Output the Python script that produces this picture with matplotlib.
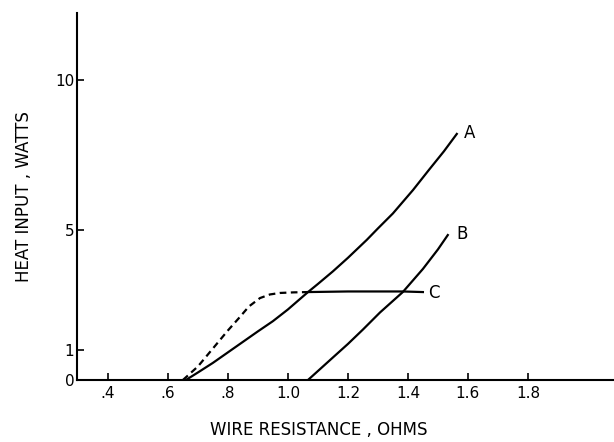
import numpy as np
import matplotlib
matplotlib.use("Agg")
import matplotlib.pyplot as plt

# curve A
a_r = [0.66, 0.70, 0.75, 0.80, 0.85, 0.90, 0.95, 1.00, 1.067, 1.10, 1.15, 1.20, 1.263, 1.30, 1.35, 1.417, 1.47, 1.52, 1.563]
a_w = [0.0, 0.25, 0.57, 0.92, 1.27, 1.62, 1.96, 2.35, 2.93, 3.2, 3.62, 4.07, 4.67, 5.05, 5.55, 6.33, 7.0, 7.62, 8.2]

# curve B
b_r = [1.067, 1.15, 1.20, 1.25, 1.307, 1.383, 1.45, 1.50, 1.533]
b_w = [0.0, 0.75, 1.2, 1.68, 2.25, 2.93, 3.7, 4.35, 4.83]

# curve C, dashed part then solid part
c_dash_r = [0.65, 0.70, 0.75, 0.80, 0.84, 0.87, 0.907, 0.94, 0.973, 1.02, 1.067]
c_dash_w = [0.0, 0.45, 1.05, 1.65, 2.1, 2.45, 2.73, 2.85, 2.9, 2.92, 2.93]
c_r = [1.067, 1.2, 1.383, 1.45]
c_w = [2.93, 2.95, 2.95, 2.93]

xticks = [0.4, 0.6, 0.8, 1.0, 1.2, 1.4, 1.6, 1.8]
xticklabels = [".4", ".6", ".8", "1.0", "1.2", "1.4", "1.6", "1.8"]
yticks = [0, 1, 5, 10]

fig = plt.figure(figsize=(6.14, 4.42), dpi=100)
ax = fig.add_axes([0.1254, 0.1403, 0.8746, 0.8303])

ax.plot(a_r, a_w, color="black", lw=1.6)
ax.plot(b_r, b_w, color="black", lw=1.6)
ax.plot(c_dash_r, c_dash_w, color="black", lw=1.6, dashes=(3, 2))
ax.plot(c_r, c_w, color="black", lw=1.6)

ax.text(1.607, 8.23, "A", fontsize=12, ha="center", va="center")
ax.text(1.58, 4.87, "B", fontsize=12, ha="center", va="center")
ax.text(1.487, 2.9, "C", fontsize=12, ha="center", va="center")

ax.set_xlim(0.297, 2.087)
ax.set_ylim(0, 12.23)
ax.set_xticks(xticks)
ax.set_xticklabels(xticklabels)
ax.set_yticks(yticks)
ax.tick_params(direction="in", length=5, width=1.2, labelsize=11, pad=4)
ax.tick_params(axis="y", pad=2)

for s in ["top", "right"]:
    ax.spines[s].set_visible(False)
for s in ["left", "bottom"]:
    ax.spines[s].set_linewidth(1.5)

ax.set_xlabel("WIRE RESISTANCE , OHMS", fontsize=12)
ax.xaxis.set_label_coords(0.45, -0.112)
ax.set_ylabel("HEAT INPUT , WATTS", fontsize=12)
ax.yaxis.set_label_coords(-0.082, 0.5)

fig.savefig("out.png", dpi=100)
